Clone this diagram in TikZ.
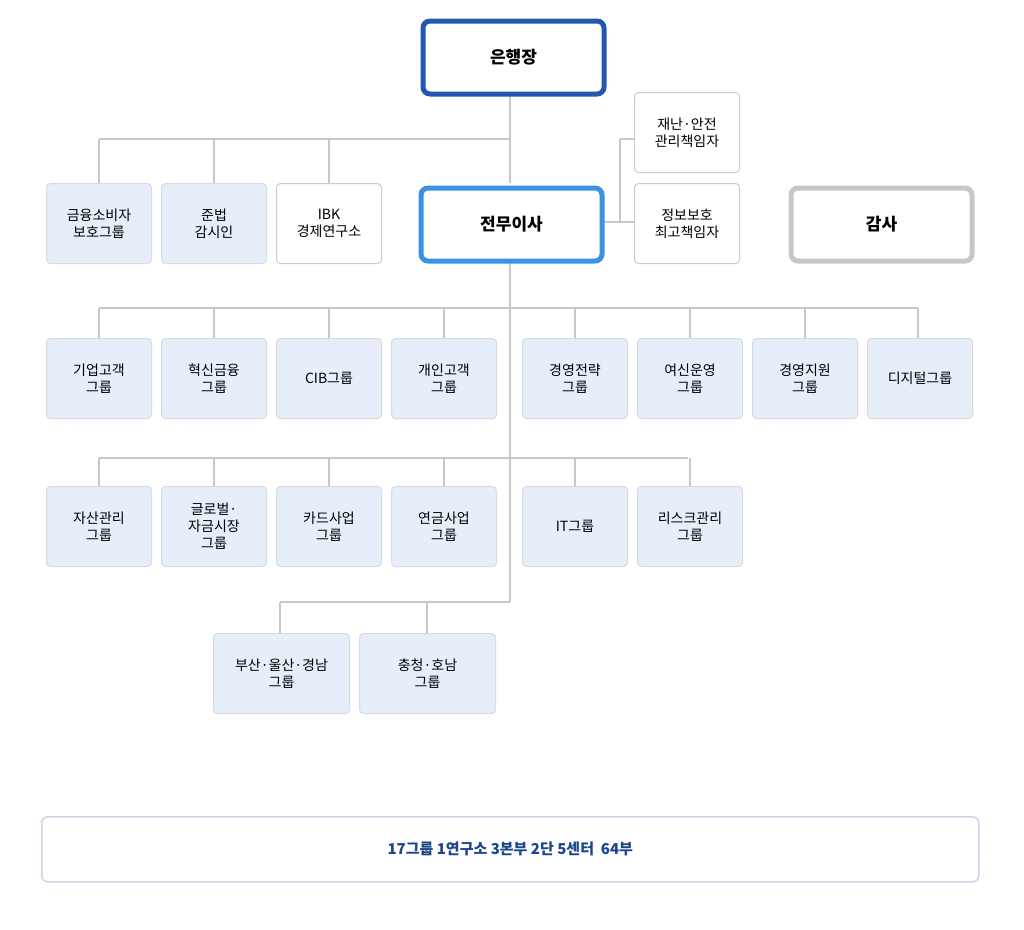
\documentclass[tikz,border=0pt]{standalone}
\usepackage{fontspec}
\setmainfont{Noto Sans CJK KR}
\begin{document}
\begin{tikzpicture}[x=1pt,y=-1pt,
  ln/.style={draw=black!22,line width=1.2pt},
  grp/.style={draw=blue!25!black!15,fill={rgb,255:red,229;green,238;blue,249},rounded corners=4pt,line width=1pt,minimum width=105pt,minimum height=80pt,align=center,font=\fontsize{14}{17}\selectfont,anchor=north west,inner sep=1pt},
  wgrp/.style={grp,fill=white,draw=black!20},
  big/.style={rounded corners=7pt,line width=5pt,minimum width=181pt,minimum height=73pt,fill=white,font=\fontsize{17}{20}\selectfont\bfseries,anchor=north west}]
\useasboundingbox (0,0) rectangle (1024,929);
% lines
\draw[ln] (510,92) -- (510,183);
\draw[ln] (99,139) -- (510,139);
\foreach \x in {99,214,329}{\draw[ln] (\x,139) -- (\x,183);}
\draw[ln] (604,222) -- (634,222);
\draw[ln] (620,139) -- (620,222);
\draw[ln] (620,139) -- (634,139);
\draw[ln] (510,263) -- (510,602);
\draw[ln] (99,308) -- (918,308);
\foreach \x in {99,214,329,444,575,690,805,918}{\draw[ln] (\x,308) -- (\x,338);}
\draw[ln] (99,458) -- (688,458);
\foreach \x in {99,214,329,444,575,690}{\draw[ln] (\x,458) -- (\x,486);}
\draw[ln] (280,602) -- (510,602);
\foreach \x in {280,427}{\draw[ln] (\x,602) -- (\x,633);}
% big nodes
\node[big,draw={rgb,255:red,36;green,88;blue,176}] (ceo) at (420.5,18.5) {은행장};
\node[big,draw={rgb,255:red,58;green,146;blue,226}] (exec) at (418.5,185.5) {전무이사};
\node[big,draw=black!22] (audit) at (788.5,185.5) {감사};
% top row
\node[grp] (a1) at (46,183) {금융소비자\\보호그룹};
\node[grp] (a2) at (161,183) {준법\\감시인};
\node[wgrp] (a3) at (276,183) {IBK\\경제연구소};
\node[wgrp] (s1) at (634,92) {재난·안전\\관리책임자};
\node[wgrp] (s2) at (634,183) {정보보호\\최고책임자};
% row 2
\node[grp] (b1) at (46,338) {기업고객\\그룹};
\node[grp] (b2) at (161,338) {혁신금융\\그룹};
\node[grp] (b3) at (276,338) {CIB그룹};
\node[grp] (b4) at (391,338) {개인고객\\그룹};
\node[grp] (b5) at (522,338) {경영전략\\그룹};
\node[grp] (b6) at (637,338) {여신운영\\그룹};
\node[grp] (b7) at (752,338) {경영지원\\그룹};
\node[grp] (b8) at (867,338) {디지털그룹};
% row 3
\node[grp] (c1) at (46,486) {자산관리\\그룹};
\node[grp] (c2) at (161,486) {글로벌·\\자금시장\\그룹};
\node[grp] (c3) at (276,486) {카드사업\\그룹};
\node[grp] (c4) at (391,486) {연금사업\\그룹};
\node[grp] (c5) at (522,486) {IT그룹};
\node[grp] (c6) at (637,486) {리스크관리\\그룹};
% row 4
\node[grp,minimum width=136pt] (d1) at (213,633) {부산·울산·경남\\그룹};
\node[grp,minimum width=136pt] (d2) at (359,633) {충청·호남\\그룹};
% summary
\node[draw={rgb,255:red,200;green,214;blue,230},line width=1.5pt,rounded corners=6pt,minimum width=937pt,minimum height=65pt,anchor=north west,fill=white,font=\fontsize{15}{18}\selectfont\bfseries,text={rgb,255:red,30;green,70;blue,140}] (sum) at (41,816) {17그룹 1연구소 3본부 2단 5센터\ \ 64부};
\end{tikzpicture}
\end{document}
